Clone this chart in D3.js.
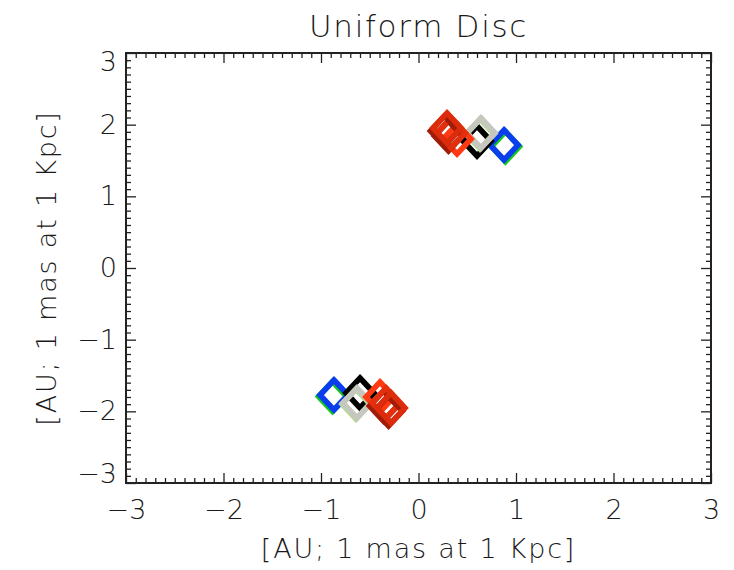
<!DOCTYPE html>
<html>
<head>
<meta charset="utf-8">
<script src="https://cdn.jsdelivr.net/npm/d3@7"></script>
<style>
  html, body { margin: 0; padding: 0; background: #fff; }
  svg text { font-family: "DejaVu Sans", sans-serif; font-weight: 200; fill: #1a1a1a; }
</style>
</head>
<body>
<svg id="chart" width="734" height="570"></svg>
<script>
// Axis range and tick labels
const axisDomain = [-3, 3];
const majorTicks = [-3, -2, -1, 0, 1, 2, 3];
const tickLabels = ["\u22123", "\u22122", "\u22121", "0", "1", "2", "3"];
const minorStep = 0.1;

const titleText = "Uniform Disc";
const xLabel = "[AU; 1 mas at 1 Kpc]";
const yLabel = "[AU; 1 mas at 1 Kpc]";

// Marker series: one position in each image (upper and lower), drawn in this order
const seriesNames  = ["green", "blue", "black", "paleGreen", "gray", "orange", "redA", "redB"];
const seriesColors = ["#12c81a", "#0a3cf0", "#000000", "#b6da96", "#c6c8c0", "#ff3a12", "#e2300e", "#dc2c0c"];
const seriesShadow = [false, false, false, false, false, false, true, true];
const upperX = [0.892, 0.877, 0.600, 0.631, 0.641, 0.395, 0.333, 0.292];
const upperY = [1.695, 1.716, 1.772, 1.870, 1.884, 1.800, 1.884, 1.953];
const lowerX = [-0.882, -0.867, -0.600, -0.641, -0.631, -0.395, -0.333, -0.282];
const lowerY = [-1.793, -1.772, -1.744, -1.898, -1.884, -1.800, -1.884, -1.953];

const svg = d3.select("#chart");
const margin = { left: 126, right: 23, top: 53, bottom: 87 };
const W = 734, H = 570;

const x = d3.scaleLinear().domain(axisDomain).range([margin.left, W - margin.right]);
const y = d3.scaleLinear().domain(axisDomain).range([H - margin.bottom, margin.top]);

const minorTicks = d3.range(axisDomain[0], axisDomain[1] + 1e-9, minorStep)
  .map(v => Math.round(v * 10) / 10)
  .filter(v => !majorTicks.includes(v));

const axisColor = "#222";
const fontSize = 27;

// Markers: thick open diamonds
const markerLayer = svg.append("g");
const hx = 14, hy = 15, markerStroke = 5.6;
const diamond = (cx, cy) => `M${cx},${cy - hy}L${cx + hx},${cy}L${cx},${cy + hy}L${cx - hx},${cy}Z`;

function drawMarkers(xs, ys) {
  seriesNames.forEach((name, i) => {
    const cx = x(xs[i]), cy = y(ys[i]);
    if (seriesShadow[i]) {
      markerLayer.append("path")
        .attr("d", diamond(cx - 2.5, cy + 3))
        .attr("fill", "none").attr("stroke", "#a01c06")
        .attr("stroke-width", markerStroke).attr("stroke-linejoin", "miter");
    }
    markerLayer.append("path")
      .attr("class", "marker " + name)
      .attr("d", diamond(cx, cy))
      .attr("fill", "none").attr("stroke", seriesColors[i])
      .attr("stroke-width", markerStroke).attr("stroke-linejoin", "miter");
  });
}
drawMarkers(upperX, upperY);
drawMarkers(lowerX, lowerY);

// Axes with inward ticks
function styleAxis(g) {
  g.select(".domain").remove();
  g.selectAll(".tick line").attr("stroke", axisColor).attr("stroke-width", 1.3);
}
function styleLabels(g) {
  g.selectAll("text").attr("font-size", fontSize).attr("font-family", "DejaVu Sans")
    .attr("font-weight", 200).attr("fill", "#1a1a1a");
}

const plotBottom = H - margin.bottom, plotTop = margin.top;
const plotLeft = margin.left, plotRight = W - margin.right;

svg.append("g").attr("transform", `translate(0,${plotBottom})`)
  .call(d3.axisBottom(x).tickValues(majorTicks).tickSizeInner(-10).tickSizeOuter(0).tickPadding(17)
    .tickFormat((d, i) => tickLabels[i]))
  .call(styleAxis).call(styleLabels);
svg.append("g").attr("transform", `translate(0,${plotBottom})`)
  .call(d3.axisBottom(x).tickValues(minorTicks).tickSizeInner(-5).tickSizeOuter(0).tickFormat(""))
  .call(styleAxis);
svg.append("g").attr("transform", `translate(0,${plotTop})`)
  .call(d3.axisTop(x).tickValues(majorTicks).tickSizeInner(-10).tickSizeOuter(0).tickFormat(""))
  .call(styleAxis);
svg.append("g").attr("transform", `translate(0,${plotTop})`)
  .call(d3.axisTop(x).tickValues(minorTicks).tickSizeInner(-5).tickSizeOuter(0).tickFormat(""))
  .call(styleAxis);

// Left axis labels; the end labels are kept inside the axis span
svg.append("g").attr("transform", `translate(${plotLeft},0)`)
  .call(d3.axisLeft(y).tickValues(majorTicks).tickSizeInner(-10).tickSizeOuter(0).tickPadding(9)
    .tickFormat((d, i) => tickLabels[i]))
  .call(styleAxis).call(styleLabels)
  .call(g => g.selectAll(".tick text")
    .attr("transform", d => d === axisDomain[1] ? "translate(0,9)" : d === axisDomain[0] ? "translate(0,-9)" : null));
svg.append("g").attr("transform", `translate(${plotLeft},0)`)
  .call(d3.axisLeft(y).tickValues(minorTicks).tickSizeInner(-5).tickSizeOuter(0).tickFormat(""))
  .call(styleAxis);
svg.append("g").attr("transform", `translate(${plotRight},0)`)
  .call(d3.axisRight(y).tickValues(majorTicks).tickSizeInner(-10).tickSizeOuter(0).tickFormat(""))
  .call(styleAxis);
svg.append("g").attr("transform", `translate(${plotRight},0)`)
  .call(d3.axisRight(y).tickValues(minorTicks).tickSizeInner(-5).tickSizeOuter(0).tickFormat(""))
  .call(styleAxis);

// Frame
svg.append("rect")
  .attr("x", plotLeft).attr("y", plotTop)
  .attr("width", plotRight - plotLeft).attr("height", plotBottom - plotTop)
  .attr("fill", "none").attr("stroke", axisColor).attr("stroke-width", 2);

// Titles
svg.append("text").attr("x", (plotLeft + plotRight) / 2).attr("y", 37)
  .attr("text-anchor", "middle").attr("font-size", 31).attr("letter-spacing", 1.7)
  .text(titleText);
svg.append("text").attr("x", (plotLeft + plotRight) / 2).attr("y", 558)
  .attr("text-anchor", "middle").attr("font-size", fontSize).attr("letter-spacing", 1.8)
  .text(xLabel);
svg.append("text")
  .attr("transform", `translate(56,${(plotTop + plotBottom) / 2}) rotate(-90)`)
  .attr("text-anchor", "middle").attr("font-size", fontSize).attr("letter-spacing", 1.8)
  .text(yLabel);
</script>
</body>
</html>
